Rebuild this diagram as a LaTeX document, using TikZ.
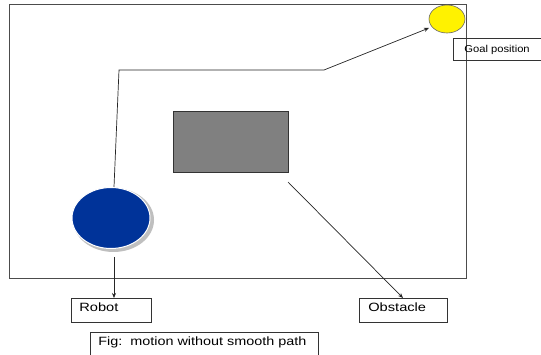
\documentclass[tikz,border=0pt]{standalone}
\usepackage{fontspec}
\setmainfont{Liberation Sans}
\usetikzlibrary{arrows.meta,shapes.geometric}
\newcommand{\widetext}[3]{\scalebox{#1}[1]{\fontsize{#2}{#2}\selectfont #3}}
\begin{document}
\begin{tikzpicture}[x=1pt,y=-1pt,
  line width=0.7pt,
  frame/.style={draw=black!70,line width=1pt},
  labelbox/.style={draw=black!80,line width=0.8pt,rectangle,inner sep=0pt,anchor=north west},
  labeltext/.style={anchor=base west,inner sep=0pt},
  pointer/.style={draw=black!85,line width=0.7pt,-{Stealth[length=5pt,width=4pt]}},
  ]
\useasboundingbox (0,0) rectangle (541,355);
\clip (0,0) rectangle (541,355);
\fill[white] (0,0) rectangle (541,355);

% workspace border
\draw[frame] (9,5) rectangle (466,279);

% goal
\node (goal) [ellipse,draw=black!60,fill=yellow,line width=0.6pt,minimum width=36pt,minimum height=28pt,inner sep=0pt] at (447,19) {};
\node (goallbl) [labelbox,minimum width=88pt,minimum height=22pt] at (453,38) {};
\node (goaltxt) [labeltext] at (464,52.5) {\widetext{1.12}{10}{Goal position}};

% obstacle
\node (obst) [draw=black!80,fill=black!50,line width=0.8pt,minimum width=115pt,minimum height=61pt,inner sep=0pt,anchor=north west] at (173,111) {};

% robot with a soft shadow rim
\fill[black!25] (113.5,220) ellipse [x radius=40.5pt,y radius=32pt];
\node (robot) [ellipse,draw=white,fill={rgb,255:red,0;green,51;blue,153},line width=1pt,minimum width=78pt,minimum height=61pt,inner sep=0pt] at (111,218) {};

% label boxes
\node (robotlbl) [labelbox,minimum width=80pt,minimum height=24pt] at (71,298) {};
\node (robottxt) [labeltext] at (79,312) {\widetext{1.22}{12}{Robot}};
\node (obstlbl) [labelbox,minimum width=88pt,minimum height=24pt] at (359,298) {};
\node (obsttxt) [labeltext] at (368,312) {\widetext{1.22}{12}{Obstacle}};

% caption box, running off the bottom edge
\node (cap) [labelbox,minimum width=228pt,minimum height=30pt] at (90,332) {};
\node (captxt) [labeltext] at (98,345) {\widetext{1.2}{12}{Fig:\ \ motion without smooth path}};

% path of the robot
\coordinate (c1) at (119,70);
\coordinate (c2) at (324,70);
\coordinate (gtip) at (429,28);
\coordinate (rstart) at (114,187);
\draw[pointer] (rstart) -- (c1) -- (c2) -- (gtip);

% pointers to the labels
\coordinate (rp) at (114,257);
\draw[pointer] (rp) -- (robotlbl.north -| rp);
\coordinate (op) at (288,182);
\draw[pointer] (op) -- (403,298);
\end{tikzpicture}
\end{document}
